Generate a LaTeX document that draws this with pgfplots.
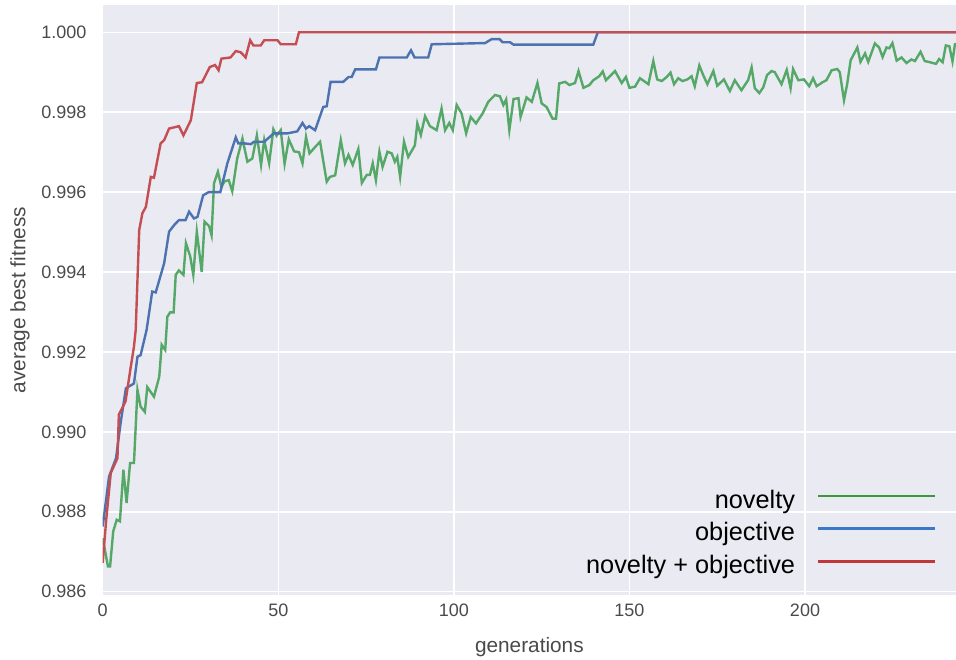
\documentclass[border=0pt]{standalone}
\usepackage{pgfplots}
\pgfplotsset{compat=1.18}
\usepackage{fontspec}
\setmainfont{Liberation Sans}
\definecolor{bgc}{HTML}{EAEAF2}
\definecolor{cgreen}{HTML}{55A868}
\definecolor{cblue}{HTML}{4C72B0}
\definecolor{cred}{HTML}{C44E52}
\definecolor{lgreen}{HTML}{3A9A3A}
\definecolor{lblue}{HTML}{3A78C8}
\definecolor{lred}{HTML}{C0383A}
\definecolor{tickc}{HTML}{4A4A4A}
\pgfplotsset{longline/.style={legend image code/.code={\draw[##1] (0pt,5.5pt) -- (117pt,5.5pt);}}}
\begin{document}
\begin{tikzpicture}
\begin{axis}[
  scale only axis,
  width=853.3pt, height=590pt,
  xmin=0, xmax=243,
  ymin=0.985917, ymax=1.000683,
  axis background/.style={fill=bgc},
  axis line style={draw=none},
  major tick length=0pt,
  grid=major,
  major grid style={white, line width=1.5pt},
  xtick={0,50,100,150,200},
  ytick={0.986,0.988,0.990,0.992,0.994,0.996,0.998,1.000},
  scaled y ticks=false,
  /pgf/number format/assume math mode=true,
  yticklabel style={/pgf/number format/fixed, /pgf/number format/fixed zerofill, /pgf/number format/precision=3, xshift=-16pt},
  tick label style={font=\fontsize{18}{20}\selectfont, text=tickc, inner sep=0pt},
  xticklabel style={yshift=-9pt},
  xlabel={generations},
  ylabel={average best fitness},
  label style={font=\fontsize{20.8}{24}\selectfont, text=tickc},
  xlabel style={at={(axis description cs:0.5,-0.088)}, anchor=center},
  ylabel style={at={(axis description cs:-0.0969,0.5)}, anchor=center},
  legend plot pos=right,
  legend cell align=right,
  legend style={at={(rel axis cs:0.9774,0.028)}, anchor=south east, draw=none, fill=none,
    font=\fontsize{25.3}{29}\selectfont, inner sep=0pt, column sep=22pt, row sep=9.6pt,
    nodes={inner sep=0pt, text height=18pt, text depth=5pt}},
  longline,
  clip=true,
]
\addplot[cgreen, line width=2.4pt, forget plot] coordinates {
(0,0.98734) (1.5,0.98663) (2.1,0.98663) (3,0.98751) (4,0.9878) (4.9,0.98776) (5.9,0.98905) (6.8,0.98822) (7.8,0.98922) (8.9,0.98922)
(9.9,0.99105) (10.8,0.99063) (12,0.9905) (12.7,0.99112) (14.6,0.99088) (16.1,0.99138) (16.8,0.99218) (17.8,0.99205) (18.4,0.99288) (19.2,0.99299)
(20.2,0.99299) (20.8,0.99393) (21.7,0.99404) (23,0.99393) (23.7,0.99472) (24.9,0.9944) (25.8,0.99393) (26.8,0.99501) (28.2,0.994) (29,0.99526)
(30.3,0.99515) (31,0.99492) (31.7,0.99622) (32.8,0.99651) (33.8,0.99613) (34.7,0.99627) (35.9,0.9963) (36.9,0.99602) (38.3,0.99684) (39.8,0.99734)
(41.2,0.99676) (42.6,0.99684) (43.9,0.99742) (45.1,0.99668) (46,0.9973) (47.4,0.99672) (48.6,0.99757) (49.5,0.99741) (50.7,0.99755) (51.8,0.99671)
(53,0.99732) (54.5,0.99702) (55.9,0.997) (56.9,0.99672) (57.9,0.99738) (58.9,0.99697) (60.5,0.99713) (61.9,0.99726) (63.8,0.99626) (64.7,0.99638)
(66.2,0.99642) (67.8,0.9973) (69.0,0.99672) (70.0,0.99693) (71.2,0.99668) (72.8,0.99708) (73.8,0.99623) (75.2,0.99643) (76.1,0.99643) (76.9,0.99672)
(77.8,0.9963) (78.8,0.99701) (79.7,0.99663) (81.1,0.99701) (82.3,0.99697) (83.2,0.99676) (83.9,0.99688) (84.7,0.99638) (85.8,0.99726) (87.0,0.99688)
(88.9,0.99717) (89.6,0.99772) (90.6,0.99743) (91.8,0.9979) (93.2,0.99765) (95.1,0.99755) (96.5,0.99809) (97.5,0.99755) (98.7,0.99773) (99.7,0.99755)
(100.8,0.99818) (102.2,0.99797) (103.5,0.99747) (104.8,0.99788) (106.3,0.99772) (108.2,0.99797) (109.8,0.99826) (111.7,0.99843) (113.1,0.9984) (114.1,0.99818)
(114.9,0.99832) (115.8,0.99755) (117.0,0.99833) (118.4,0.99835) (119.0,0.99788) (120.7,0.99837) (122.2,0.99826) (123.8,0.99873) (125.0,0.99822) (126.4,0.99813)
(128.1,0.99784) (129.1,0.99784) (130.0,0.99872) (131.7,0.99876) (132.9,0.99868) (134.5,0.99873) (135.5,0.99903) (136.9,0.99861) (138.6,0.99868) (139.7,0.9988)
(141.4,0.9989) (142.4,0.99902) (143.3,0.9988) (145.9,0.99903) (147.8,0.99873) (149.0,0.99888) (150.0,0.99861) (151.6,0.99864) (153.0,0.99885) (155.4,0.9987)
(156.8,0.99928) (157.9,0.99882) (159.2,0.99878) (160.6,0.99888) (161.7,0.99899) (162.7,0.9987) (163.9,0.99885) (165.1,0.99878) (166.5,0.99882) (167.7,0.9989)
(168.6,0.99865) (169.9,0.99917) (171.0,0.99893) (172.2,0.9987) (173.9,0.99903) (175.0,0.99866) (176.9,0.99882) (178.6,0.99853) (180.0,0.9988) (181.9,0.99855)
(183.8,0.9988) (184.8,0.99912) (185.7,0.9986) (187.0,0.99848) (188.1,0.99862) (189.2,0.99893) (190.5,0.99903) (191.4,0.999) (193.3,0.9987) (194.8,0.99906)
(195.9,0.9986) (196.6,0.99908) (198.1,0.9988) (199.7,0.99882) (201.2,0.99865) (202.3,0.99885) (203.3,0.99865) (205.0,0.99875) (206.1,0.9988) (207.6,0.99905)
(209.2,0.99908) (209.9,0.999) (211.1,0.9983) (212.0,0.9987) (213.0,0.9993) (214.9,0.99962) (215.8,0.99926) (217.1,0.99947) (218.0,0.99926) (219.9,0.99972)
(221.1,0.99962) (222.1,0.99938) (223.2,0.99962) (224.0,0.9996) (224.9,0.99973) (226.1,0.99929) (227.5,0.99937) (228.9,0.99923) (230.3,0.99932) (231.3,0.99928)
(232.9,0.99951) (234.1,0.99928) (235.6,0.99925) (237.3,0.99921) (238.2,0.99933) (239.2,0.99925) (240.1,0.99967) (241.1,0.99965) (242.0,0.99927) (242.7,0.9997)
(243.5,0.9997)
};
\addplot[cblue, line width=2.4pt, forget plot] coordinates {
(0,0.98763) (1.8,0.98888) (3.8,0.98934) (5.1,0.99022) (6.6,0.99109) (8.9,0.99121) (9.9,0.99188) (10.8,0.99192) (12.5,0.99255) (14.1,0.99351)
(15.1,0.99349) (17.5,0.99422) (18.9,0.99501) (20.4,0.99518) (21.7,0.9953) (23.6,0.9953) (24.6,0.99551) (26,0.99534) (27,0.99538) (28.6,0.99592)
(30.2,0.996) (33.5,0.996) (35.5,0.99672) (37.9,0.99737) (38.6,0.99722) (40.3,0.99722) (42.2,0.9972) (43.1,0.99726) (46,0.99726) (48.7,0.99747)
(52.6,0.99747) (55.4,0.99752) (56.9,0.99773) (57.9,0.99759) (58.8,0.99765) (60.5,0.99755) (62.8,0.99813) (63.8,0.99815) (64.9,0.99876) (68.5,0.99876)
(70.0,0.99888) (70.9,0.99888) (71.9,0.99907) (77.8,0.99907) (78.8,0.99937) (86.6,0.99937) (87.8,0.99955) (88.8,0.99937) (92.7,0.99937) (93.7,0.9997)
(108.9,0.99973) (110.8,0.99983) (113,0.99983) (113.9,0.99975) (116,0.99975) (117,0.99969) (139.7,0.99969) (141,1.0) (243.5,1.0)
};
\addplot[cred, line width=2.4pt, forget plot] coordinates {
(0,0.98672) (1,0.9878) (2.3,0.98897) (4.2,0.98934) (4.6,0.99043) (6.5,0.99076) (8,0.99163) (8.9,0.99213) (9.4,0.99255) (10.4,0.99505)
(11.3,0.99547) (12.3,0.99563) (13.7,0.99638) (14.6,0.99636) (16.5,0.99722) (17.5,0.9973) (18.9,0.99759) (21.7,0.99765) (23,0.99742) (25.1,0.9978)
(26.8,0.99873) (28.3,0.99875) (30.5,0.99913) (32,0.99918) (33,0.99905) (33.8,0.99934) (36.4,0.99937) (37.9,0.99953) (39.3,0.9995) (40.7,0.99937)
(42,0.9998) (42.9,0.99967) (45,0.99967) (46,0.9998) (49.8,0.9998) (50.7,0.9997) (55,0.9997) (55.9,1.0) (243.5,1.0)
};
\addlegendimage{lgreen, line width=2.5pt}
\addlegendentry{novelty}
\addlegendimage{lblue, line width=2.5pt}
\addlegendentry{objective}
\addlegendimage{lred, line width=2.5pt}
\addlegendentry{novelty + objective}
\end{axis}
\pgfresetboundingbox
\path[use as bounding box] (-102.7pt,-65pt) rectangle (853.3pt,595pt);
\end{tikzpicture}
\end{document}
